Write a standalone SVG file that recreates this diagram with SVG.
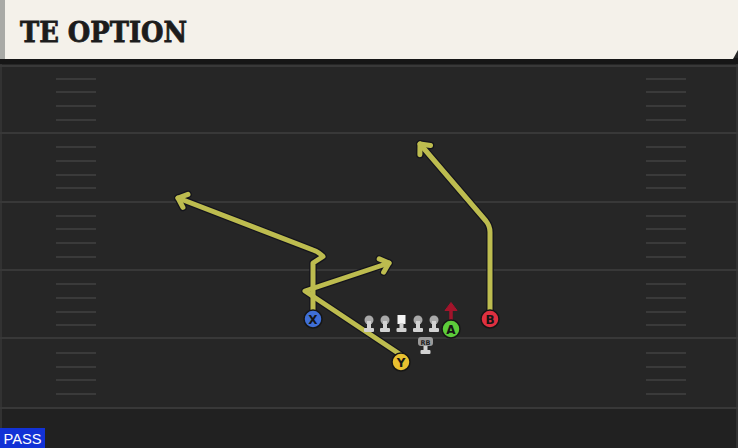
<svg xmlns="http://www.w3.org/2000/svg" width="738" height="448" viewBox="0 0 738 448">
<style>
.fl{stroke:#383838;stroke-width:2}
.hm{stroke:#3a3a3a;stroke-width:2}
.ro{fill:none;stroke:#14141c;stroke-width:7.5;stroke-linejoin:round;stroke-linecap:round}
.ri{fill:none;stroke:#bdbc4f;stroke-width:5;stroke-linejoin:round;stroke-linecap:round}
.pc{stroke:#161616;stroke-width:1.5}
.pl{font-family:"DejaVu Sans",sans-serif;font-weight:bold;font-size:12px;fill:#151515;text-anchor:middle}
.lh{fill:#a9a9a9}
.lb{fill:#d2d2d2}
.title{font-family:"DejaVu Serif","Liberation Serif",serif;font-weight:bold;font-size:27px;fill:#1c1c1c;stroke:#1c1c1c;stroke-width:0.8}
</style>
<defs>
<marker id="ao" markerUnits="userSpaceOnUse" markerWidth="24" markerHeight="24" refX="0" refY="0" viewBox="-14 -12 20 24" orient="auto">
<path d="M-8 -7 L0 0 L-8 7" fill="none" stroke="#14141c" stroke-width="7.5" stroke-linecap="round" stroke-linejoin="round"/>
</marker>
<marker id="ai" markerUnits="userSpaceOnUse" markerWidth="24" markerHeight="24" refX="0" refY="0" viewBox="-14 -12 20 24" orient="auto">
<path d="M-8 -7 L0 0 L-8 7" fill="none" stroke="#bdbc4f" stroke-width="5" stroke-linecap="round" stroke-linejoin="round"/>
</marker>
</defs>
<rect x="0" y="0" width="738" height="448" fill="#262626"/>
<rect x="0" y="408" width="738" height="40" fill="#212121"/>
<rect x="0" y="60" width="2" height="388" fill="#323232"/>
<rect x="736" y="60" width="2" height="388" fill="#323232"/>
<g id="field-lines">
<line class="fl" x1="0" y1="66" x2="738" y2="66"/>
<line class="fl" x1="0" y1="133" x2="738" y2="133"/>
<line class="fl" x1="0" y1="202" x2="738" y2="202"/>
<line class="fl" x1="0" y1="270" x2="738" y2="270"/>
<line class="fl" x1="0" y1="338" x2="738" y2="338"/>
<line class="fl" x1="0" y1="408" x2="738" y2="408"/>
</g>
<g id="hash-marks">
<path class="hm" d="M56 79H96M56 92H96M56 106H96M56 120H96M56 147H96M56 161H96M56 175H96M56 188H96M56 216H96M56 229H96M56 243H96M56 257H96M56 284H96M56 298H96M56 312H96M56 325H96M56 353H96M56 367H96M56 380H96M56 394H96"/>
<path class="hm" d="M646 79H686M646 92H686M646 106H686M646 120H686M646 147H686M646 161H686M646 175H686M646 188H686M646 216H686M646 229H686M646 243H686M646 257H686M646 284H686M646 298H686M646 312H686M646 325H686M646 353H686M646 367H686M646 380H686M646 394H686"/>
</g>
<g id="header">
<rect x="0" y="58" width="738" height="6" fill="#161616"/>
<path d="M0 0 H738 V50 L733 59 H0 Z" fill="#f4f1ea"/>
<rect x="0" y="0" width="5" height="59" fill="#a9aaa6"/>
<text class="title" x="20" y="42" textLength="167" lengthAdjust="spacingAndGlyphs">TE OPTION</text>
</g>
<g id="connectors">
<path class="ro" d="M313 311 L313 263 L323 256.5 Q319 252 313 250 L178 198" marker-end="url(#ao)"/>
<path class="ro" d="M401 355 L305 291 L389 263" marker-end="url(#ao)"/>
<path class="ro" d="M490 311 L490 232 Q490 226 486 221 L420 144" marker-end="url(#ao)"/>
<path class="ri" d="M313 311 L313 263 L323 256.5 Q319 252 313 250 L178 198" marker-end="url(#ai)"/>
<path class="ri" d="M401 355 L305 291 L389 263" marker-end="url(#ai)"/>
<path class="ri" d="M490 311 L490 232 Q490 226 486 221 L420 144" marker-end="url(#ai)"/>
<path d="M451 320 V309" stroke="#a3142b" stroke-width="3.5"/>
<path d="M445 310.5 L451 302.5 L457 310.5 Z" fill="#a3142b" stroke="#a3142b" stroke-width="1" stroke-linejoin="round"/>
</g>
<g id="lt"><circle class="lh" cx="369" cy="320" r="4.5"/><rect class="lb" x="367" y="321" width="4" height="8"/><rect class="lb" x="364" y="328" width="10" height="4" rx="1"/></g>
<g id="lg"><circle class="lh" cx="385" cy="320" r="4.5"/><rect class="lb" x="383" y="321" width="4" height="8"/><rect class="lb" x="380" y="328" width="10" height="4" rx="1"/></g>
<g id="c"><rect x="397.5" y="315" width="8" height="9" fill="#f4f4f4"/><rect class="lb" x="399.5" y="323" width="4" height="6"/><rect class="lb" x="396.5" y="328" width="10" height="4" rx="1"/></g>
<g id="rg"><circle class="lh" cx="418" cy="320" r="4.5"/><rect class="lb" x="416" y="321" width="4" height="8"/><rect class="lb" x="413" y="328" width="10" height="4" rx="1"/></g>
<g id="rt"><circle class="lh" cx="434" cy="320" r="4.5"/><rect class="lb" x="432" y="321" width="4" height="8"/><rect class="lb" x="429" y="328" width="10" height="4" rx="1"/></g>
<g id="rb"><rect x="418" y="337" width="15" height="9" rx="3" fill="#9a9a9a"/><text x="425.5" y="344.5" font-family="'DejaVu Sans',sans-serif" font-weight="bold" font-size="6.5" fill="#222" text-anchor="middle">RB</text><rect class="lb" x="423.5" y="346" width="4" height="5"/><rect class="lb" x="420.5" y="350" width="10" height="4" rx="1"/></g>
<g id="X"><circle class="pc" cx="313" cy="319" r="9" fill="#3f6fd6"/><text class="pl" x="313" y="323.5">X</text></g>
<g id="Y"><circle class="pc" cx="401" cy="362" r="9" fill="#e8c030"/><text class="pl" x="401" y="366.5">Y</text></g>
<g id="A"><circle class="pc" cx="451" cy="329" r="9" fill="#5ccc3a"/><text class="pl" x="451" y="333.5">A</text></g>
<g id="B"><circle class="pc" cx="490" cy="319" r="9" fill="#df3040"/><text class="pl" x="490" y="323.5">B</text></g>
<g id="pass"><rect x="0" y="428" width="45" height="20" fill="#1232d6"/><text x="3.5" y="444" font-family="'Liberation Sans',sans-serif" font-size="15" textLength="38" lengthAdjust="spacingAndGlyphs" fill="#ffffff">PASS</text></g>
</svg>
